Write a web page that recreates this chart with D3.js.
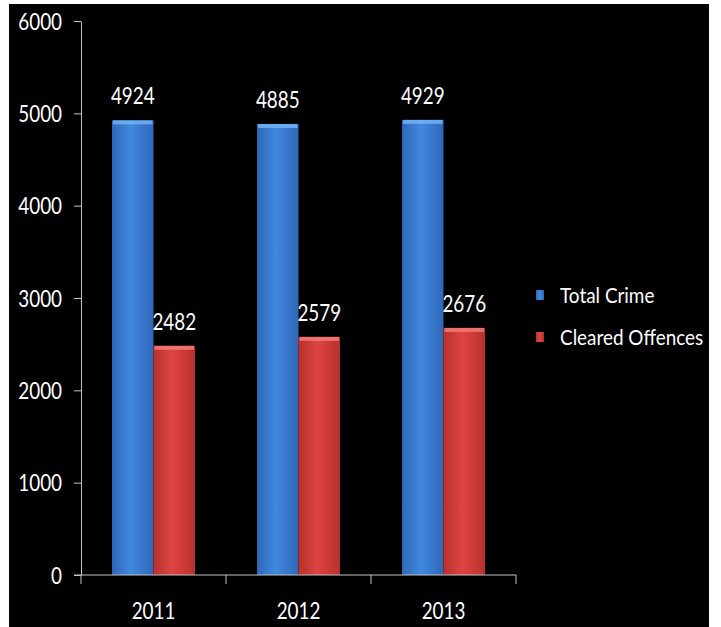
<!DOCTYPE html>
<html>
<head>
<meta charset="utf-8">
<script src="https://cdn.jsdelivr.net/npm/d3@7"></script>
<style>
  body { margin: 0; background: #ffffff; }
  svg text { font-family: Lato, "Noto Sans", sans-serif; fill: #ffffff; }
</style>
</head>
<body>
<svg id="chart" width="721" height="627"></svg>
<script>
// data
const years = ["2011", "2012", "2013"];
const seriesNames = ["Total Crime", "Cleared Offences"];
const totalCrime = [4924, 4885, 4929];
const clearedOffences = [2482, 2579, 2676];
const yTicks = [0, 1000, 2000, 3000, 4000, 5000, 6000];

const svg = d3.select("#chart");

// the original font is a narrow one, so squeeze each text horizontally
// (moves x/y into a transform so the anchor point stays put)
function narrow(sel, k = 0.82) {
    sel.each(function() {
        let t = d3.select(this);
        let x = +t.attr("x") || 0;
        let y = +t.attr("y") || 0;
        t.attr("x", 0).attr("y", 0)
            .attr("transform", "translate(" + x + "," + y + ") scale(" + k + ",1)");
    });
}

// black plot panel inside a white frame
svg.append("rect")
    .attr("x", 9).attr("y", 4)
    .attr("width", 700).attr("height", 623)
    .attr("fill", "#000000");

// gradients for the glossy bars
const defs = svg.append("defs");
const colors = {
    "Total Crime": { edge: "#2f67b8", mid: "#4189e0", top: "#72b2f5" },
    "Cleared Offences": { edge: "#b8302c", mid: "#de4541", top: "#f27a76" }
};
seriesNames.forEach((s, i) => {
    let g = defs.append("linearGradient")
        .attr("id", "grad" + i)
        .attr("x1", "0%").attr("x2", "100%").attr("y1", "0%").attr("y2", "0%");
    g.append("stop").attr("offset", "0%").attr("stop-color", colors[s].edge);
    g.append("stop").attr("offset", "45%").attr("stop-color", colors[s].mid);
    g.append("stop").attr("offset", "100%").attr("stop-color", colors[s].edge);
});

// scales
const y = d3.scaleLinear()
    .domain([0, 6000])
    .range([575, 21]);

const x0 = d3.scaleBand()
    .domain(years)
    .range([81, 516])
    .paddingInner(0.428)
    .paddingOuter(0.214);

const x1 = d3.scaleBand()
    .domain(seriesNames)
    .range([0, x0.bandwidth()]);

// y axis
const yAxis = svg.append("g")
    .attr("transform", "translate(81,0)")
    .call(d3.axisLeft(y).tickValues(yTicks).tickFormat(d3.format("d"))
        .tickSize(7).tickSizeOuter(0).tickPadding(12));
yAxis.selectAll("path, line").attr("stroke", "#c4c4c4");
yAxis.selectAll("text")
    .style("font-size", "23px")
    .attr("fill", "#ffffff")
    .attr("dy", "0.36em")
    .call(narrow);

// bars
const rows = years.map((yr, i) => ({ year: yr, values: [totalCrime[i], clearedOffences[i]] }));

const groups = svg.selectAll(".year")
    .data(rows)
    .join("g")
    .attr("class", "year")
    .attr("transform", d => "translate(" + x0(d.year) + ",0)");

groups.selectAll(".bar")
    .data(d => d.values.map((v, j) => ({ series: seriesNames[j], idx: j, value: v })))
    .join("rect")
    .attr("class", "bar")
    .attr("x", d => x1(d.series))
    .attr("width", x1.bandwidth())
    .attr("y", d => y(d.value))
    .attr("height", d => y(0) - y(d.value))
    .attr("fill", d => "url(#grad" + d.idx + ")");

// light cap on top of each bar
groups.selectAll(".cap")
    .data(d => d.values.map((v, j) => ({ series: seriesNames[j], value: v })))
    .join("rect")
    .attr("class", "cap")
    .attr("x", d => x1(d.series) + 1)
    .attr("width", x1.bandwidth() - 2)
    .attr("y", d => y(d.value))
    .attr("height", 4)
    .attr("fill", d => colors[d.series].top)
    .attr("opacity", 0.85);

// value labels
groups.selectAll(".val")
    .data(d => d.values.map((v, j) => ({ series: seriesNames[j], value: v })))
    .join("text")
    .attr("class", "val")
    .attr("x", d => x1(d.series) + x1.bandwidth() / 2)
    .attr("y", d => y(d.value) - 16)
    .attr("text-anchor", "middle")
    .style("font-size", "23px")
    .text(d => d.value)
    .call(narrow);

// x axis: baseline, boundary ticks, labels
const step = x0.step();
const boundaries = [x0.range()[0]].concat(years.map(d => x0(d) + x0.bandwidth() + step * x0.paddingInner() / 2));

svg.append("line")
    .attr("x1", 74).attr("x2", x0.range()[1])
    .attr("y1", y(0)).attr("y2", y(0))
    .attr("stroke", "#c4c4c4");

svg.selectAll(".xtick")
    .data(boundaries)
    .join("line")
    .attr("class", "xtick")
    .attr("x1", d => d).attr("x2", d => d)
    .attr("y1", y(0)).attr("y2", y(0) + 9)
    .attr("stroke", "#c4c4c4");

svg.selectAll(".xlabel")
    .data(years)
    .join("text")
    .attr("class", "xlabel")
    .attr("x", d => x0(d) + x0.bandwidth() / 2)
    .attr("y", 619)
    .attr("text-anchor", "middle")
    .style("font-size", "23px")
    .text(d => d)
    .call(narrow);

// legend
const legend = svg.selectAll(".legend")
    .data(seriesNames)
    .join("g")
    .attr("class", "legend")
    .attr("transform", (d, i) => "translate(536," + (295 + i * 42) + ")");

legend.append("rect")
    .attr("x", 0).attr("y", -5)
    .attr("width", 8).attr("height", 10)
    .attr("fill", (d, i) => "url(#grad" + i + ")");

legend.append("text")
    .attr("x", 24)
    .attr("y", 8)
    .style("font-size", "22px")
    .text(d => d)
    .call(sel => narrow(sel, 0.86));
</script>
</body>
</html>
